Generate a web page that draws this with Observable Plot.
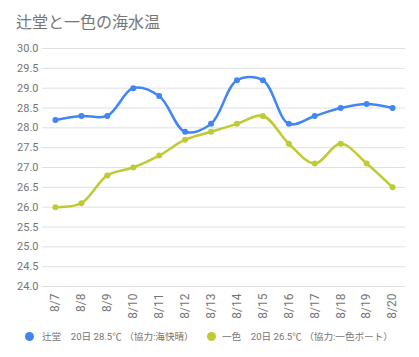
<!DOCTYPE html>
<html>
<head>
<meta charset="utf-8">
<script src="https://cdn.jsdelivr.net/npm/d3@7"></script>
<script src="https://cdn.jsdelivr.net/npm/@observablehq/plot@0.6"></script>
<style>
  body { margin: 0; background: #fff; font-family: Roboto, "Noto Sans CJK JP", sans-serif; }
  #wrap { position: relative; width: 419px; height: 357px; overflow: hidden; }
  #title { position: absolute; left: 16px; top: 9px; font-size: 16px; color: #757575; font-family: Roboto, "Noto Sans CJK JP", sans-serif; }
  #chart { position: absolute; left: 0; top: 0; }
  .dot { position: absolute; width: 9px; height: 9px; border-radius: 50%; top: 332px; }
  .label { position: absolute; top: 330px; font-size: 9.6px; line-height: 14px; color: #757575; white-space: nowrap; font-family: Roboto, "Noto Sans CJK JP", sans-serif; }
</style>
</head>
<body>
<div id="wrap">
  <div id="chart"></div>
  <div id="title">辻堂と一色の海水温</div>
  <div id="legend"></div>
</div>
<script>
const dates = ["8/7","8/8","8/9","8/10","8/11","8/12","8/13","8/14","8/15","8/16","8/17","8/18","8/19","8/20"];
const tsujido = [28.2, 28.3, 28.3, 29.0, 28.8, 27.9, 28.1, 29.2, 29.2, 28.1, 28.3, 28.5, 28.6, 28.5];
const isshiki = [26.0, 26.1, 26.8, 27.0, 27.3, 27.7, 27.9, 28.1, 28.3, 27.6, 27.1, 27.6, 27.1, 26.5];
const seriesNames = ["辻堂", "一色"];
const seriesColors = ["#4285F4", "#C0CA33"];
const legendLabels = ["辻堂　20日 28.5℃ （協力:海快晴）", "一色　20日 26.5℃ （協力:一色ボート）"];
const yTicks = [24.0, 24.5, 25.0, 25.5, 26.0, 26.5, 27.0, 27.5, 28.0, 28.5, 29.0, 29.5, 30.0];

const data = [];
dates.forEach((d, i) => {
  data.push({date: d, value: tsujido[i], series: seriesNames[0]});
  data.push({date: d, value: isshiki[i], series: seriesNames[1]});
});

const chart = Plot.plot({
  width: 419,
  height: 357,
  marginTop: 48,
  marginBottom: 71,
  marginLeft: 42,
  marginRight: 14,
  style: {fontFamily: "Roboto, 'Noto Sans CJK JP', sans-serif", fontSize: "11px", color: "#757575", background: "transparent"},
  x: {type: "point", domain: dates, padding: 0.5, round: false, label: null},
  y: {domain: [24, 30], label: null},
  color: {domain: seriesNames, range: seriesColors},
  marks: [
    Plot.ruleY(yTicks, {stroke: "#e0e0e0", strokeWidth: 1}),
    Plot.axisY(yTicks, {tickSize: 0, tickPadding: 4, tickFormat: d3.format(".1f"), label: null, fill: "#757575", fontSize: 11}),
    Plot.axisX({tickSize: 0, tickPadding: 7, tickRotate: -90, label: null, fill: "#757575", fontSize: 12}),
    Plot.line(data, {x: "date", y: "value", z: "series", stroke: "series", strokeWidth: 2.5, curve: "catmull-rom"}),
    Plot.dot(data, {x: "date", y: "value", fill: "series", r: 3})
  ]
});
document.getElementById("chart").appendChild(chart);

const legend = document.getElementById("legend");
const dotLefts = [25, 207];
const textLefts = [42, 222];
seriesNames.forEach((s, i) => {
  const dot = document.createElement("div");
  dot.className = "dot";
  dot.style.left = dotLefts[i] + "px";
  dot.style.background = seriesColors[i];
  legend.appendChild(dot);
  const lab = document.createElement("div");
  lab.className = "label";
  lab.style.left = textLefts[i] + "px";
  lab.textContent = legendLabels[i];
  legend.appendChild(lab);
});
</script>
</body>
</html>
